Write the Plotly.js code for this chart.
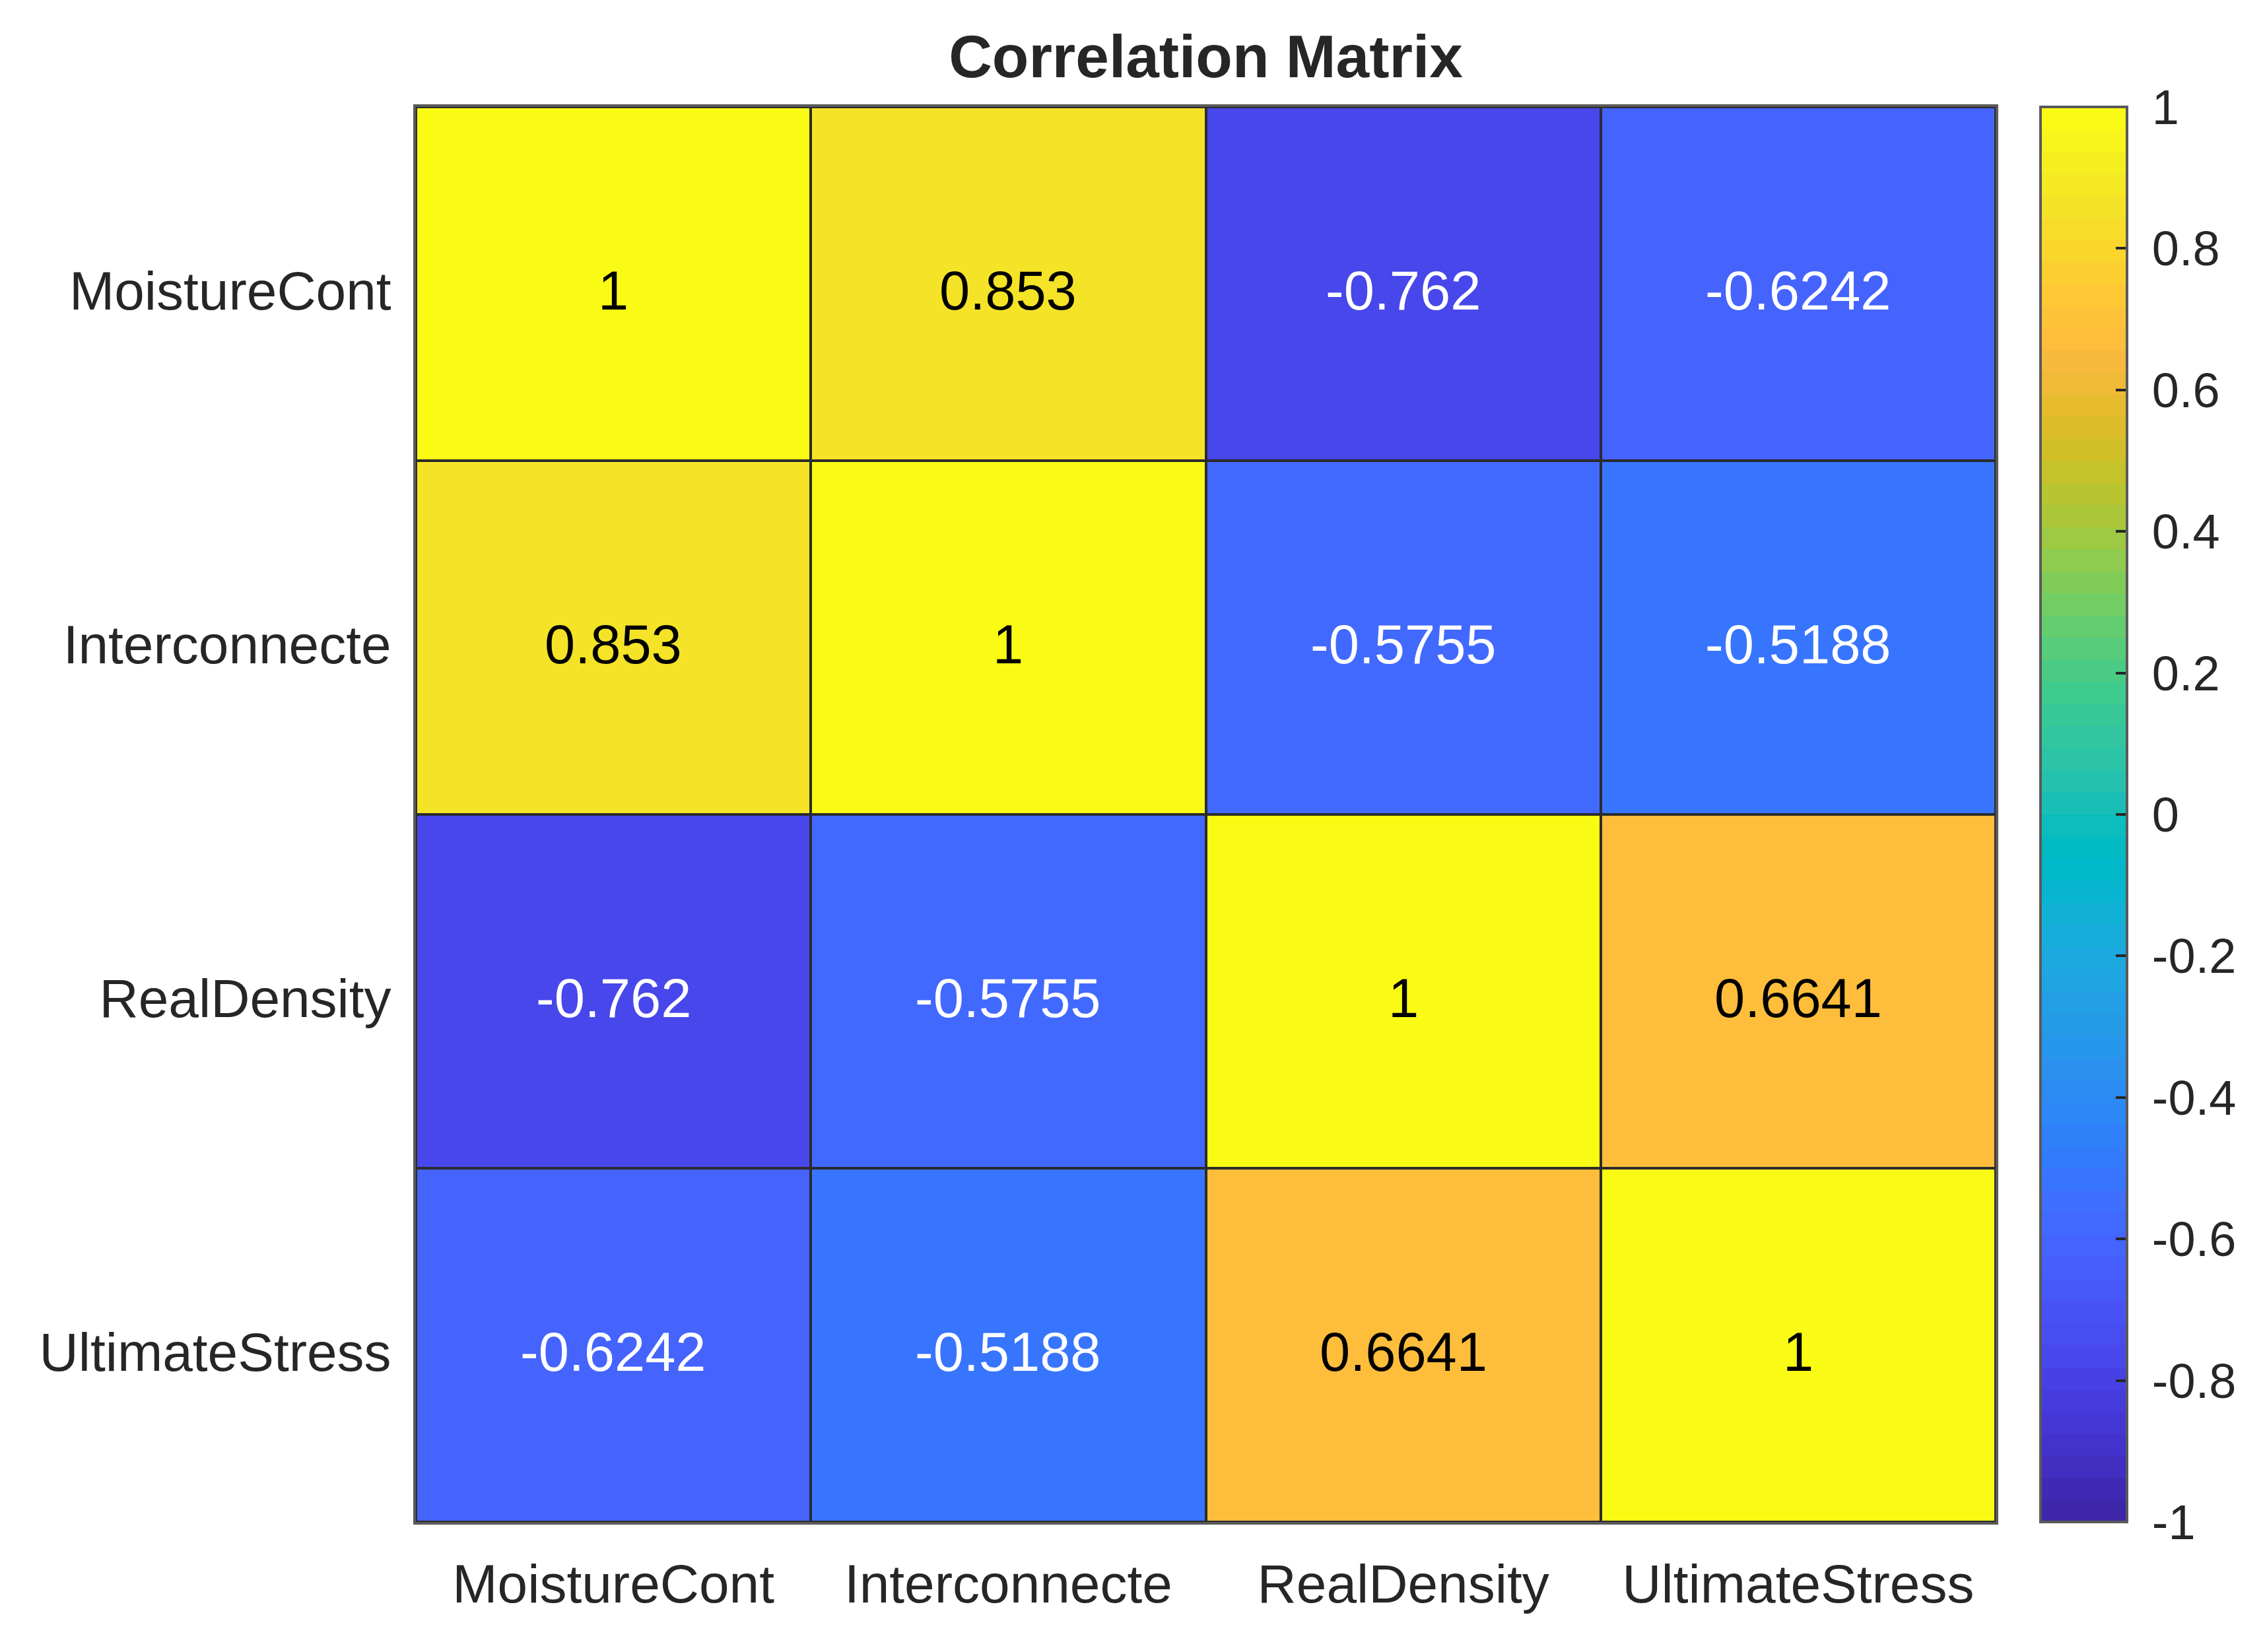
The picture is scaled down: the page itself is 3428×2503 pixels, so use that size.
<!DOCTYPE html>
<html>
<head>
<meta charset="utf-8">
<script src="https://cdn.plot.ly/plotly-3.0.1.min.js"></script>
<style>html,body{margin:0;padding:0;background:#fff;}#chart{width:3428px;height:2503px;}</style>
</head>
<body>
<div id="chart"></div>
<script>
// ---- data ----
const variables = ["MoistureCont", "Interconnecte", "RealDensity", "UltimateStress"];
const rowMoisture = [1, 0.853, -0.762, -0.6242];
const rowInterconnecte = [0.853, 1, -0.5755, -0.5188];
const rowRealDensity = [-0.762, -0.5755, 1, 0.6641];
const rowUltimateStress = [-0.6242, -0.5188, 0.6641, 1];
const colorbarTicks = [-1, -0.8, -0.6, -0.4, -0.2, 0, 0.2, 0.4, 0.6, 0.8, 1];
const colorbarTickText = ["-1", "-0.8", "-0.6", "-0.4", "-0.2", "0", "0.2", "0.4", "0.6", "0.8", "1"];
const titleText = "Correlation Matrix";

// ---- parula colormap (64 entries) ----
const parula = [
[0.2422,0.1504,0.6603],[0.2504,0.1650,0.7076],[0.2578,0.1818,0.7511],[0.2647,0.1978,0.7952],
[0.2706,0.2147,0.8364],[0.2751,0.2342,0.8710],[0.2783,0.2559,0.8991],[0.2803,0.2782,0.9221],
[0.2813,0.3006,0.9414],[0.2810,0.3228,0.9579],[0.2795,0.3447,0.9717],[0.2760,0.3667,0.9829],
[0.2699,0.3892,0.9906],[0.2602,0.4123,0.9952],[0.2440,0.4358,0.9988],[0.2206,0.4603,0.9973],
[0.1963,0.4847,0.9892],[0.1834,0.5074,0.9798],[0.1786,0.5289,0.9682],[0.1764,0.5499,0.9520],
[0.1687,0.5703,0.9359],[0.1540,0.5902,0.9218],[0.1460,0.6091,0.9079],[0.1380,0.6276,0.8973],
[0.1248,0.6459,0.8883],[0.1113,0.6635,0.8763],[0.0952,0.6798,0.8598],[0.0689,0.6948,0.8394],
[0.0297,0.7082,0.8163],[0.0036,0.7203,0.7917],[0.0067,0.7312,0.7660],[0.0433,0.7411,0.7394],
[0.0964,0.7500,0.7120],[0.1408,0.7584,0.6842],[0.1717,0.7670,0.6554],[0.1938,0.7758,0.6251],
[0.2161,0.7843,0.5923],[0.2470,0.7918,0.5567],[0.2906,0.7973,0.5188],[0.3406,0.8008,0.4789],
[0.3909,0.8029,0.4354],[0.4456,0.8024,0.3909],[0.5044,0.7993,0.3480],[0.5616,0.7942,0.3045],
[0.6174,0.7876,0.2612],[0.6720,0.7793,0.2227],[0.7242,0.7698,0.1910],[0.7738,0.7598,0.1646],
[0.8203,0.7498,0.1535],[0.8634,0.7406,0.1596],[0.9035,0.7330,0.1774],[0.9393,0.7288,0.2100],
[0.9728,0.7298,0.2394],[0.9956,0.7434,0.2371],[0.9970,0.7659,0.2199],[0.9952,0.7893,0.2028],
[0.9892,0.8136,0.1885],[0.9786,0.8386,0.1766],[0.9676,0.8639,0.1643],[0.9610,0.8890,0.1537],
[0.9597,0.9135,0.1423],[0.9628,0.9373,0.1265],[0.9691,0.9606,0.1064],[0.9769,0.9839,0.0805]
];
const N = parula.length;
const rgb = c => `rgb(${Math.round(c[0]*255)},${Math.round(c[1]*255)},${Math.round(c[2]*255)})`;
const colorscale = [];
parula.forEach((c, i) => {
  colorscale.push([i / N, rgb(c)]);
  colorscale.push([(i + 1) / N, rgb(c)]);
});

const z = [rowMoisture, rowInterconnecte, rowRealDensity, rowUltimateStress];
const cmin = -1, cmax = 1;

function cellColor(v) {
  let idx = Math.floor((v - cmin) / (cmax - cmin) * N);
  idx = Math.max(0, Math.min(N - 1, idx));
  return parula[idx];
}

const fontFam = "Liberation Sans, Arial, Helvetica, sans-serif";
const textDark = "#262626";

const annotations = [];
z.forEach((row, i) => {
  row.forEach((v, j) => {
    const c = cellColor(v);
    const lum = 0.299 * c[0] + 0.587 * c[1] + 0.114 * c[2];
    annotations.push({
      x: variables[j], y: variables[i], xref: "x", yref: "y",
      text: String(v), showarrow: false, yshift: -10,
      font: {family: fontFam, size: 83, color: lum > 0.5 ? "#000000" : "#ffffff"}
    });
  });
});

const trace = {
  type: "heatmap",
  x: variables,
  y: variables,
  z: z,
  zmin: cmin, zmax: cmax,
  colorscale: colorscale,
  xgap: 4, ygap: 4,
  hoverinfo: "skip",
  colorbar: {
    x: 1.0284, xanchor: "left", xref: "paper",
    y: 0.5, yanchor: "middle", len: 1, lenmode: "fraction",
    thickness: 131, thicknessmode: "pixels",
    outlinecolor: "#5a5a5a", outlinewidth: 4,
    tickmode: "array", tickvals: colorbarTicks,
    ticktext: colorbarTickText.map(t => " " + t),
    ticks: "inside", ticklen: 19, tickwidth: 4, tickcolor: "#262626",
    tickfont: {family: fontFam, size: 74, color: textDark},
    ticklabelposition: "outside",
    xpad: 0, ypad: 0
  }
};

const layout = {
  width: 3428, height: 2503,
  margin: {l: 630, r: 405, t: 162, b: 197, pad: 0},
  paper_bgcolor: "#ffffff",
  plot_bgcolor: "#2b2b2b",
  font: {family: fontFam, color: textDark},
  title: {
    text: "<b>" + titleText + "</b>",
    x: 0.5, xref: "paper", xanchor: "center",
    y: 1 - 85 / 2503, yref: "container", yanchor: "middle",
    font: {family: fontFam, size: 91, color: textDark}
  },
  xaxis: {
    type: "category",
    showgrid: false, zeroline: false,
    showline: true, mirror: true, linecolor: "#5a5a5a", linewidth: 4,
    ticks: "", tickfont: {family: fontFam, size: 82, color: textDark},
    ticklabelstandoff: 20
  },
  yaxis: {
    type: "category", autorange: "reversed",
    showgrid: false, zeroline: false,
    showline: true, mirror: true, linecolor: "#5a5a5a", linewidth: 4,
    ticks: "", tickfont: {family: fontFam, size: 82, color: textDark},
    ticklabelstandoff: 17, ticklabelshift: -10
  },
  annotations: annotations,
  showlegend: false
};

Plotly.newPlot("chart", [trace], layout, {staticPlot: true, displayModeBar: false});
</script>
</body>
</html>
